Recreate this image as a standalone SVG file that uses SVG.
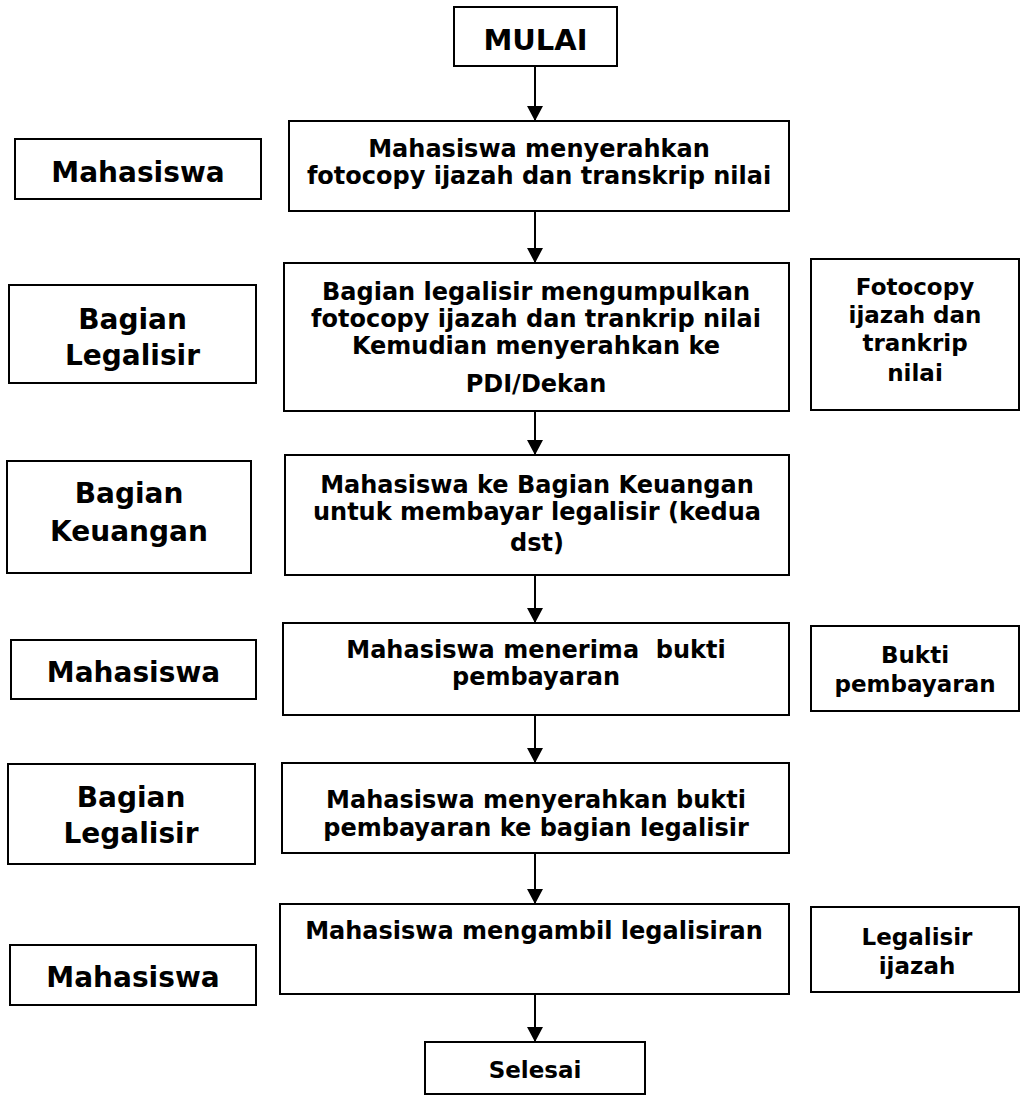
<svg xmlns="http://www.w3.org/2000/svg" width="1020" height="1096" viewBox="0 0 1020 1096">
<style>
  .box { fill: #ffffff; stroke: #000000; stroke-width: 2; }
  text { font-family: "DejaVu Sans", Verdana, "Liberation Sans", sans-serif; font-weight: bold; fill: #000000; text-anchor: middle; }
  .t { font-size: 24px; }
  .d { font-size: 23px; }
  .lbl { font-size: 28px; }
  .big { font-size: 29px; }
  .conn line { stroke: #000000; stroke-width: 2; }
</style>
<defs>
  <marker id="arrow" markerWidth="16" markerHeight="16" refX="15" refY="8" orient="auto" markerUnits="userSpaceOnUse">
    <path d="M0,0 L15,8 L0,16 Z" fill="#000000"/>
  </marker>
</defs>
<rect width="1020" height="1096" fill="#ffffff"/>

<g id="connectors" class="conn">
  <line x1="535" y1="66" x2="535" y2="121" marker-end="url(#arrow)"/>
  <line x1="535" y1="211" x2="535" y2="263" marker-end="url(#arrow)"/>
  <line x1="535" y1="411" x2="535" y2="455" marker-end="url(#arrow)"/>
  <line x1="535" y1="575" x2="535" y2="623" marker-end="url(#arrow)"/>
  <line x1="535" y1="715" x2="535" y2="763" marker-end="url(#arrow)"/>
  <line x1="535" y1="853" x2="535" y2="904" marker-end="url(#arrow)"/>
  <line x1="535" y1="994" x2="535" y2="1042" marker-end="url(#arrow)"/>
</g>

<g id="mulai">
  <rect class="box" x="454" y="7" width="163" height="59"/>
  <text class="big" x="535.5" y="50">MULAI</text>
</g>

<g id="lbl-mahasiswa-1">
  <rect class="box" x="15" y="139" width="246" height="60"/>
  <text class="lbl" x="138" y="182">Mahasiswa</text>
</g>
<g id="step-1">
  <rect class="box" x="289" y="121" width="500" height="90"/>
  <text class="t" x="539" y="157">Mahasiswa menyerahkan</text>
  <text class="t" x="539" y="184">fotocopy ijazah dan transkrip nilai</text>
</g>

<g id="lbl-bagian-legalisir-1">
  <rect class="box" x="9" y="285" width="247" height="98"/>
  <text class="lbl" x="132.5" y="329">Bagian</text>
  <text class="lbl" x="132.5" y="365">Legalisir</text>
</g>
<g id="step-2">
  <rect class="box" x="284" y="263" width="505" height="148"/>
  <text class="t" x="536" y="300">Bagian legalisir mengumpulkan</text>
  <text class="t" x="536" y="327">fotocopy ijazah dan trankrip nilai</text>
  <text class="t" x="536" y="354">Kemudian menyerahkan ke</text>
  <text class="t" x="536" y="392">PDI/Dekan</text>
</g>
<g id="doc-fotocopy">
  <rect class="box" x="811" y="259" width="208" height="151"/>
  <text class="d" x="915" y="295">Fotocopy</text>
  <text class="d" x="915" y="323">ijazah dan</text>
  <text class="d" x="915" y="351">trankrip</text>
  <text class="d" x="915" y="381">nilai</text>
</g>

<g id="lbl-bagian-keuangan">
  <rect class="box" x="7" y="461" width="244" height="112"/>
  <text class="lbl" x="129" y="503">Bagian</text>
  <text class="lbl" x="129" y="541">Keuangan</text>
</g>
<g id="step-3">
  <rect class="box" x="285" y="455" width="504" height="120"/>
  <text class="t" x="537" y="493">Mahasiswa ke Bagian Keuangan</text>
  <text class="t" x="537" y="520">untuk membayar legalisir (kedua</text>
  <text class="t" x="537" y="551">dst)</text>
</g>

<g id="lbl-mahasiswa-2">
  <rect class="box" x="11" y="640" width="245" height="59"/>
  <text class="lbl" x="133.5" y="682">Mahasiswa</text>
</g>
<g id="step-4">
  <rect class="box" x="283" y="623" width="506" height="92"/>
  <text class="t" x="536" y="658" xml:space="preserve">Mahasiswa menerima  bukti</text>
  <text class="t" x="536" y="685">pembayaran</text>
</g>
<g id="doc-bukti">
  <rect class="box" x="811" y="626" width="208" height="85"/>
  <text class="d" x="915" y="663">Bukti</text>
  <text class="d" x="915" y="692">pembayaran</text>
</g>

<g id="lbl-bagian-legalisir-2">
  <rect class="box" x="8" y="764" width="247" height="100"/>
  <text class="lbl" x="131" y="807">Bagian</text>
  <text class="lbl" x="131" y="843">Legalisir</text>
</g>
<g id="step-5">
  <rect class="box" x="282" y="763" width="507" height="90"/>
  <text class="t" x="536" y="808">Mahasiswa menyerahkan bukti</text>
  <text class="t" x="536" y="836">pembayaran ke bagian legalisir</text>
</g>

<g id="lbl-mahasiswa-3">
  <rect class="box" x="10" y="945" width="246" height="60"/>
  <text class="lbl" x="133" y="987">Mahasiswa</text>
</g>
<g id="step-6">
  <rect class="box" x="280" y="904" width="509" height="90"/>
  <text class="t" x="534" y="939">Mahasiswa mengambil legalisiran</text>
</g>
<g id="doc-legalisir">
  <rect class="box" x="811" y="907" width="208" height="85"/>
  <text class="d" x="917" y="945">Legalisir</text>
  <text class="d" x="917" y="974">ijazah</text>
</g>

<g id="selesai">
  <rect class="box" x="425" y="1042" width="220" height="52"/>
  <text class="d" x="535" y="1078">Selesai</text>
</g>
</svg>
